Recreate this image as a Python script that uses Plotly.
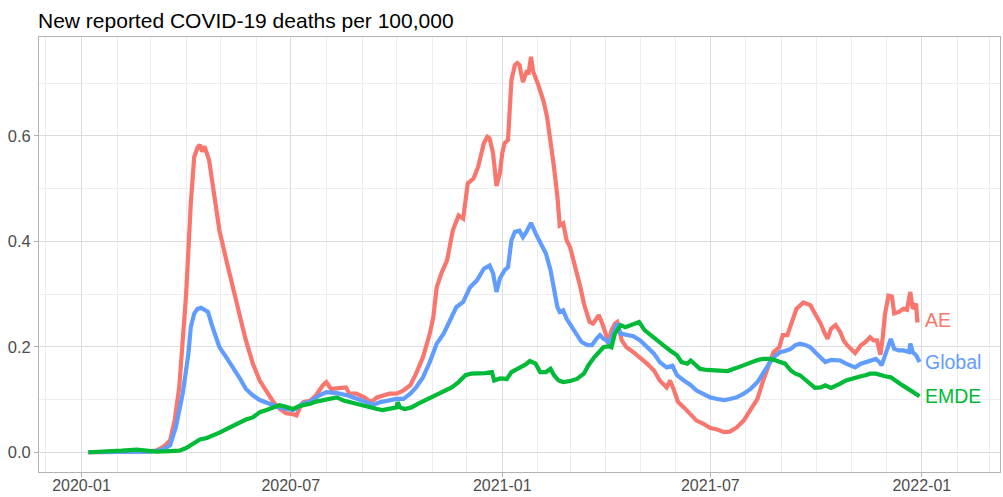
import pandas as pd
import plotly.graph_objects as go

# New reported COVID-19 deaths per 100,000 (7-day average), by country group
ae_dates = [
    "2020-01-07", "2020-01-31", "2020-02-25", "2020-03-06", "2020-03-12", "2020-03-18",
    "2020-03-22", "2020-03-26", "2020-03-29", "2020-04-01", "2020-04-05", "2020-04-08",
    "2020-04-11", "2020-04-13", "2020-04-15", "2020-04-17", "2020-04-21", "2020-04-24",
    "2020-04-27", "2020-04-30", "2020-05-06", "2020-05-12", "2020-05-18", "2020-05-23",
    "2020-05-29", "2020-06-04", "2020-06-10", "2020-06-16", "2020-06-21", "2020-06-27",
    "2020-07-03", "2020-07-06", "2020-07-09", "2020-07-12", "2020-07-18", "2020-07-23",
    "2020-07-29", "2020-08-01", "2020-08-05", "2020-08-13", "2020-08-18", "2020-08-21",
    "2020-08-27", "2020-09-03", "2020-09-09", "2020-09-14", "2020-09-19", "2020-09-25",
    "2020-10-01", "2020-10-07", "2020-10-13", "2020-10-18", "2020-10-24", "2020-10-30",
    "2020-11-02", "2020-11-05", "2020-11-09", "2020-11-14", "2020-11-19", "2020-11-24",
    "2020-11-28", "2020-12-02", "2020-12-07", "2020-12-11", "2020-12-16", "2020-12-19",
    "2020-12-21", "2020-12-24", "2020-12-27", "2020-12-30", "2021-01-01", "2021-01-03",
    "2021-01-06", "2021-01-09", "2021-01-12", "2021-01-14", "2021-01-16", "2021-01-19",
    "2021-01-22", "2021-01-24", "2021-01-26", "2021-01-28", "2021-02-01", "2021-02-06",
    "2021-02-09", "2021-02-12", "2021-02-15", "2021-02-18", "2021-02-20", "2021-02-23",
    "2021-02-26", "2021-03-01", "2021-03-04", "2021-03-07", "2021-03-10", "2021-03-13",
    "2021-03-16", "2021-03-18", "2021-03-21", "2021-03-26", "2021-03-29", "2021-04-01",
    "2021-04-03", "2021-04-06", "2021-04-09", "2021-04-11", "2021-04-15", "2021-04-19",
    "2021-04-25", "2021-05-01", "2021-05-07", "2021-05-13", "2021-05-18", "2021-05-24",
    "2021-05-27", "2021-05-30", "2021-06-03", "2021-06-08", "2021-06-14", "2021-06-19",
    "2021-06-25", "2021-07-01", "2021-07-07", "2021-07-13", "2021-07-18", "2021-07-24",
    "2021-07-30", "2021-08-05", "2021-08-11", "2021-08-16", "2021-08-21", "2021-08-25",
    "2021-08-30", "2021-09-02", "2021-09-06", "2021-09-10", "2021-09-14", "2021-09-20",
    "2021-09-26", "2021-09-30", "2021-10-05", "2021-10-08", "2021-10-11", "2021-10-14",
    "2021-10-18", "2021-10-22", "2021-10-25", "2021-10-28", "2021-11-01", "2021-11-04",
    "2021-11-09", "2021-11-13", "2021-11-17", "2021-11-20", "2021-11-23", "2021-11-26",
    "2021-11-28", "2021-11-30", "2021-12-03", "2021-12-06", "2021-12-08", "2021-12-12",
    "2021-12-16", "2021-12-19", "2021-12-22", "2021-12-24", "2021-12-27", "2021-12-28",
    "2021-12-30",
]
ae_values = [
    0.000, 0.000, 0.001, 0.003, 0.010, 0.022,
    0.060, 0.123, 0.200, 0.300, 0.470, 0.560,
    0.578, 0.583, 0.570, 0.580, 0.554, 0.510,
    0.460, 0.420, 0.364, 0.307, 0.256, 0.212,
    0.168, 0.136, 0.114, 0.095, 0.083, 0.074,
    0.072, 0.070, 0.085, 0.095, 0.098, 0.108,
    0.127, 0.133, 0.120, 0.123, 0.123, 0.111,
    0.111, 0.104, 0.095, 0.104, 0.108, 0.111,
    0.111, 0.117, 0.127, 0.149, 0.180, 0.225,
    0.256, 0.313, 0.339, 0.364, 0.421, 0.449,
    0.443, 0.510, 0.519, 0.541, 0.586, 0.598,
    0.595, 0.567, 0.505, 0.530, 0.567, 0.586,
    0.592, 0.706, 0.734, 0.738, 0.734, 0.702,
    0.721, 0.720, 0.750, 0.721, 0.699, 0.665,
    0.636, 0.592, 0.541, 0.484, 0.430, 0.434,
    0.402, 0.389, 0.364, 0.345, 0.313, 0.282,
    0.263, 0.247, 0.244, 0.260, 0.244, 0.225,
    0.206, 0.231, 0.244, 0.247, 0.212, 0.199,
    0.190, 0.180, 0.168, 0.155, 0.136, 0.123,
    0.136, 0.120, 0.095, 0.085, 0.070, 0.060,
    0.054, 0.046, 0.043, 0.038, 0.039, 0.047,
    0.060, 0.079, 0.101, 0.136, 0.168, 0.190,
    0.199, 0.222, 0.222, 0.250, 0.272, 0.284,
    0.279, 0.263, 0.244, 0.228, 0.215, 0.234,
    0.241, 0.228, 0.212, 0.203, 0.193, 0.188,
    0.203, 0.209, 0.218, 0.212, 0.212, 0.185,
    0.218, 0.263, 0.297, 0.295, 0.263, 0.266,
    0.272, 0.270, 0.304, 0.272, 0.282, 0.250,
    0.250,
]

global_dates = [
    "2020-01-07", "2020-03-01", "2020-03-11", "2020-03-18", "2020-03-23", "2020-03-29",
    "2020-04-03", "2020-04-05", "2020-04-08", "2020-04-11", "2020-04-14", "2020-04-17",
    "2020-04-20", "2020-04-24", "2020-04-30", "2020-05-06", "2020-05-12", "2020-05-18",
    "2020-05-23", "2020-05-29", "2020-06-04", "2020-06-10", "2020-06-16", "2020-06-21",
    "2020-06-27", "2020-07-03", "2020-07-07", "2020-07-11", "2020-07-17", "2020-07-26",
    "2020-08-01", "2020-08-10", "2020-08-19", "2020-08-27", "2020-09-05", "2020-09-11",
    "2020-09-17", "2020-09-25", "2020-10-01", "2020-10-07", "2020-10-13", "2020-10-18",
    "2020-10-24", "2020-10-30", "2020-11-05", "2020-11-11", "2020-11-16", "2020-11-22",
    "2020-11-28", "2020-12-04", "2020-12-10", "2020-12-16", "2020-12-21", "2020-12-24",
    "2020-12-27", "2020-12-30", "2021-01-03", "2021-01-06", "2021-01-09", "2021-01-12",
    "2021-01-16", "2021-01-19", "2021-01-22", "2021-01-26", "2021-01-30", "2021-02-03",
    "2021-02-08", "2021-02-12", "2021-02-15", "2021-02-18", "2021-02-20", "2021-02-23",
    "2021-02-26", "2021-03-03", "2021-03-07", "2021-03-11", "2021-03-16", "2021-03-20",
    "2021-03-24", "2021-03-27", "2021-03-30", "2021-04-02", "2021-04-04", "2021-04-08",
    "2021-04-11", "2021-04-14", "2021-04-20", "2021-04-25", "2021-05-01", "2021-05-07",
    "2021-05-13", "2021-05-18", "2021-05-24", "2021-05-29", "2021-06-02", "2021-06-08",
    "2021-06-14", "2021-06-19", "2021-06-25", "2021-07-01", "2021-07-07", "2021-07-13",
    "2021-07-18", "2021-07-24", "2021-07-30", "2021-08-05", "2021-08-11", "2021-08-16",
    "2021-08-22", "2021-08-27", "2021-08-31", "2021-09-04", "2021-09-09", "2021-09-13",
    "2021-09-17", "2021-09-22", "2021-09-26", "2021-09-30", "2021-10-05", "2021-10-09",
    "2021-10-14", "2021-10-18", "2021-10-22", "2021-10-27", "2021-10-31", "2021-11-04",
    "2021-11-09", "2021-11-13", "2021-11-17", "2021-11-22", "2021-11-25", "2021-11-27",
    "2021-11-29", "2021-12-02", "2021-12-05", "2021-12-08", "2021-12-12", "2021-12-16",
    "2021-12-21", "2021-12-22", "2021-12-24", "2021-12-27", "2021-12-30",
]
global_values = [
    0.000, 0.001, 0.004, 0.013, 0.047, 0.111,
    0.187, 0.237, 0.263, 0.272, 0.274, 0.270,
    0.266, 0.237, 0.199, 0.180, 0.161, 0.139,
    0.120, 0.108, 0.099, 0.093, 0.089, 0.085,
    0.082, 0.080, 0.085, 0.092, 0.095, 0.108,
    0.114, 0.112, 0.108, 0.101, 0.095, 0.090,
    0.095, 0.098, 0.101, 0.101, 0.111, 0.123,
    0.142, 0.171, 0.206, 0.225, 0.247, 0.275,
    0.285, 0.313, 0.326, 0.348, 0.354, 0.339,
    0.304, 0.330, 0.345, 0.351, 0.402, 0.418,
    0.420, 0.408, 0.418, 0.435, 0.415, 0.396,
    0.377, 0.345, 0.307, 0.275, 0.266, 0.269,
    0.253, 0.237, 0.225, 0.209, 0.203, 0.203,
    0.215, 0.222, 0.215, 0.212, 0.206, 0.225,
    0.244, 0.225, 0.222, 0.220, 0.212, 0.199,
    0.187, 0.171, 0.161, 0.164, 0.146, 0.136,
    0.127, 0.117, 0.111, 0.104, 0.101, 0.099,
    0.101, 0.104, 0.111, 0.120, 0.133, 0.152,
    0.171, 0.184, 0.190, 0.192, 0.196, 0.203,
    0.206, 0.203, 0.199, 0.190, 0.179, 0.171,
    0.175, 0.174, 0.174, 0.168, 0.165, 0.161,
    0.168, 0.171, 0.175, 0.177, 0.171, 0.165,
    0.177, 0.199, 0.215, 0.196, 0.193, 0.193,
    0.190, 0.206, 0.190, 0.184, 0.171,
]

emde_dates = [
    "2020-01-07", "2020-01-26", "2020-02-05", "2020-02-18", "2020-02-27", "2020-03-06",
    "2020-03-18", "2020-03-26", "2020-04-01", "2020-04-07", "2020-04-13", "2020-04-19",
    "2020-04-24", "2020-04-30", "2020-05-06", "2020-05-12", "2020-05-18", "2020-05-23",
    "2020-05-29", "2020-06-04", "2020-06-10", "2020-06-16", "2020-06-21", "2020-06-27",
    "2020-07-03", "2020-07-09", "2020-07-12", "2020-07-18", "2020-07-23", "2020-07-29",
    "2020-08-04", "2020-08-10", "2020-08-16", "2020-08-21", "2020-08-27", "2020-09-02",
    "2020-09-08", "2020-09-14", "2020-09-19", "2020-09-25", "2020-10-01", "2020-10-02",
    "2020-10-04", "2020-10-08", "2020-10-14", "2020-10-20", "2020-10-26", "2020-10-31",
    "2020-11-06", "2020-11-12", "2020-11-18", "2020-11-24", "2020-11-30", "2020-12-05",
    "2020-12-11", "2020-12-17", "2020-12-23", "2020-12-25", "2020-12-30", "2021-01-05",
    "2021-01-09", "2021-01-15", "2021-01-21", "2021-01-25", "2021-01-30", "2021-02-03",
    "2021-02-08", "2021-02-12", "2021-02-15", "2021-02-19", "2021-02-23", "2021-03-01",
    "2021-03-07", "2021-03-13", "2021-03-17", "2021-03-22", "2021-03-26", "2021-03-30",
    "2021-04-04", "2021-04-06", "2021-04-09", "2021-04-14", "2021-04-18", "2021-04-22",
    "2021-04-26", "2021-04-30", "2021-05-05", "2021-05-10", "2021-05-15", "2021-05-21",
    "2021-05-27", "2021-06-02", "2021-06-06", "2021-06-11", "2021-06-14", "2021-06-18",
    "2021-06-22", "2021-06-28", "2021-07-04", "2021-07-10", "2021-07-16", "2021-07-24",
    "2021-07-30", "2021-08-05", "2021-08-11", "2021-08-16", "2021-08-22", "2021-08-27",
    "2021-08-31", "2021-09-04", "2021-09-09", "2021-09-13", "2021-09-17", "2021-09-22",
    "2021-09-26", "2021-09-30", "2021-10-05", "2021-10-09", "2021-10-14", "2021-10-18",
    "2021-10-22", "2021-10-27", "2021-10-31", "2021-11-04", "2021-11-09", "2021-11-13",
    "2021-11-17", "2021-11-22", "2021-11-26", "2021-11-30", "2021-12-05", "2021-12-09",
    "2021-12-13", "2021-12-18", "2021-12-22", "2021-12-27", "2021-12-30",
]
emde_values = [
    0.000, 0.001, 0.003, 0.005, 0.003, 0.001,
    0.002, 0.003, 0.008, 0.015, 0.024, 0.027,
    0.031, 0.037, 0.044, 0.051, 0.057, 0.062,
    0.066, 0.076, 0.080, 0.085, 0.089, 0.086,
    0.082, 0.088, 0.089, 0.092, 0.096, 0.098,
    0.101, 0.104, 0.098, 0.095, 0.092, 0.089,
    0.085, 0.082, 0.080, 0.082, 0.085, 0.095,
    0.085, 0.082, 0.085, 0.092, 0.098, 0.104,
    0.111, 0.117, 0.123, 0.133, 0.146, 0.149,
    0.149, 0.150, 0.152, 0.136, 0.140, 0.139,
    0.152, 0.158, 0.166, 0.173, 0.168, 0.152,
    0.152, 0.158, 0.146, 0.136, 0.133, 0.135,
    0.139, 0.149, 0.165, 0.180, 0.190, 0.199,
    0.201, 0.199, 0.225, 0.241, 0.237, 0.241,
    0.245, 0.247, 0.231, 0.222, 0.212, 0.203,
    0.193, 0.184, 0.171, 0.168, 0.174, 0.165,
    0.158, 0.156, 0.155, 0.154, 0.154, 0.160,
    0.165, 0.169, 0.175, 0.177, 0.177, 0.174,
    0.171, 0.168, 0.155, 0.149, 0.146, 0.136,
    0.130, 0.122, 0.123, 0.127, 0.122, 0.125,
    0.130, 0.136, 0.139, 0.141, 0.144, 0.146,
    0.149, 0.149, 0.146, 0.144, 0.142, 0.137,
    0.130, 0.123, 0.117, 0.111, 0.106,
]

series = [
    ("AE", ae_dates, ae_values, "#F8766D"),
    ("Global", global_dates, global_values, "#619CFF"),
    ("EMDE", emde_dates, emde_values, "#00BA38"),
]

title_text = "New reported COVID-19 deaths per 100,000"
x_range = ["2019-11-25", "2022-03-10"]
y_range = [-0.0375, 0.7875]

FONT = "Liberation Sans, Arial, Helvetica, sans-serif"
GRID_MAJOR = "#DCDCDC"
GRID_MINOR = "#EDEDED"
BORDER = "#B3B3B3"

fig = go.Figure()

for name, dates, values, color in series:
    x = pd.to_datetime(dates)
    fig.add_trace(go.Scatter(
        x=x, y=values, mode="lines", name=name,
        line=dict(color=color, width=4.2),
        showlegend=False, hoverinfo="skip",
    ))
    # series name placed just right of the last observation
    fig.add_annotation(
        x=x[-1], y=values[-1], xref="x", yref="y",
        text=name, showarrow=False, xanchor="left", yanchor="middle",
        xshift=3, font=dict(family=FONT, size=19.5, color=color),
    )

fig.update_layout(
    width=1003, height=497,
    margin=dict(l=39, r=3, t=37, b=25),
    paper_bgcolor="white", plot_bgcolor="white",
    font=dict(family=FONT, color="#4D4D4D"),
    title=dict(
        text=title_text, x=38 / 1003, xref="container", xanchor="left",
        y=1 - 21 / 497, yref="container", yanchor="middle",
        font=dict(family=FONT, size=21, color="black"),
    ),
    showlegend=False,
)

fig.update_xaxes(
    type="date", range=x_range, automargin=False,
    tick0="2020-01-01", dtick="M6", tickformat="%Y-%m",
    ticks="outside", ticklen=4, tickcolor=BORDER, tickwidth=1,
    ticklabelstandoff=-5,
    tickfont=dict(family=FONT, size=16, color="#4D4D4D"),
    showgrid=True, gridcolor=GRID_MAJOR, gridwidth=1,
    minor=dict(dtick="M1", tick0="2020-01-01", showgrid=True,
               gridcolor=GRID_MINOR, gridwidth=1, ticks=""),
    showline=True, linecolor=BORDER, linewidth=1, mirror=True,
    zeroline=False,
)
fig.update_yaxes(
    range=y_range, automargin=False, tick0=0, dtick=0.2, tickformat=".1f",
    ticks="outside", ticklen=4, tickcolor=BORDER, tickwidth=1,
    tickfont=dict(family=FONT, size=16.5, color="#4D4D4D"),
    showgrid=True, gridcolor=GRID_MAJOR, gridwidth=1,
    minor=dict(dtick=0.1, tick0=0, showgrid=True,
               gridcolor=GRID_MINOR, gridwidth=1, ticks=""),
    showline=True, linecolor=BORDER, linewidth=1, mirror=True,
    zeroline=False,
)

fig.write_html("out.html")
